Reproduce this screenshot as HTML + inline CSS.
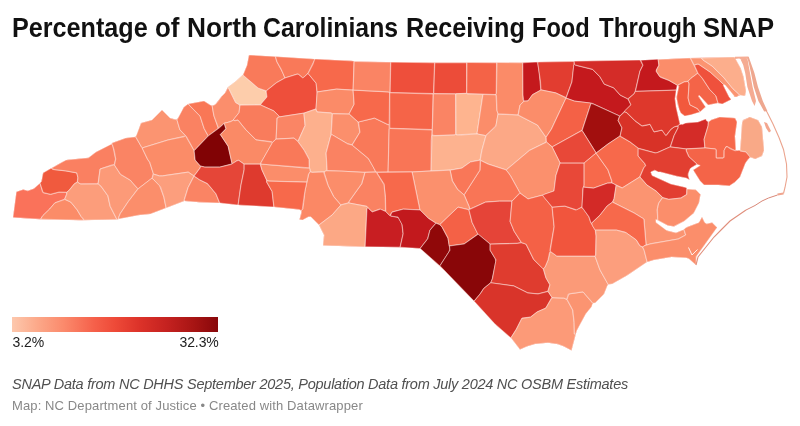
<!DOCTYPE html>
<html><head><meta charset="utf-8">
<style>
html,body{margin:0;padding:0;background:#fff;}
body{width:800px;height:426px;position:relative;overflow:hidden;filter:blur(0.45px);font-family:"Liberation Sans",sans-serif;}
#title{position:absolute;left:0;top:12.7px;font-size:27px;font-weight:bold;color:#111;white-space:nowrap;line-height:30px;}
#title span{position:absolute;top:0;transform-origin:0 0;}
#bar{position:absolute;left:12.4px;top:316.7px;width:206px;height:15px;background:linear-gradient(90deg,#fdc8ad 0%,#fca98a 12%,#fb8a6c 25%,#f5604a 40%,#ee4a38 50%,#dc3229 62%,#c52220 75%,#a81514 88%,#88070a 100%);}
#lmin{position:absolute;left:12.5px;top:334px;font-size:14px;color:#222;line-height:16px;letter-spacing:-0.1px;}
#lmax{position:absolute;right:581.3px;top:334px;font-size:14px;color:#222;line-height:16px;letter-spacing:-0.1px;}
#note{position:absolute;left:12px;top:374.5px;font-size:14.5px;font-style:italic;color:#505050;white-space:nowrap;line-height:18px;letter-spacing:-0.25px;}
#by{position:absolute;left:12px;top:398px;font-size:13px;color:#888;white-space:nowrap;line-height:16px;letter-spacing:0.12px;}
svg{position:absolute;left:0;top:0;}
</style></head><body>
<div id="title"><span style="left:11.89px;transform:scaleX(0.9318)">Percentage</span><span style="left:154.54px;transform:scaleX(0.9600)">of</span><span style="left:186.80px;transform:scaleX(0.9743)">North</span><span style="left:262.83px;transform:scaleX(0.9190)">Carolinians</span><span style="left:405.64px;transform:scaleX(0.9315)">Receiving</span><span style="left:532.00px;transform:scaleX(0.8750)">Food</span><span style="left:598.75px;transform:scaleX(0.8912)">Through</span><span style="left:702.80px;transform:scaleX(0.9486)">SNAP</span></div>
<svg id="map" width="800" height="426" viewBox="0 0 800 426"><path d="M13,217.5 38.8,219.2 79.2,220.2 117.5,219.5 120.2,218.5 138,215.2 150.2,214 184.2,201 199.2,202.2 221,203 240.5,205.2 271.8,206.8 300.2,209.8 301.5,211.2 299.5,219.5 302.5,220 308.5,216.8 310.8,216.8 319,225 324,235 323,245.5 361,246.8 402.5,247.2 420.5,248.5 444.2,270.2 475.2,302.2 496.8,325.8 511.5,338.5 520,349.5 526.8,346.5 535,344 548,342.8 558,344.2 564,346.5 571.5,350.5 576.8,330.5 585.8,313.8 591.5,306.8 592.2,304 593.2,303 595,303 604,294 607,286.2 608.5,284.2 612,284 627.8,275 646.5,262.2 653.8,260 671.5,257 686,257.8 689,258.8 696,265 696.2,256.5 717,227.5 712,222.5 707,223.8 705.8,223.5 704.5,222.2 702,217 699,222.5 687,227 684,229.5 676,232.8 666,230.2 656,222.5 656,219.2 667.8,225.5 674.2,226.5 684,221.2 693.8,213 699,202.8 700.5,194.5 695.8,189.8 687.2,189.2 686,187.5 670.8,184 651.8,175.2 650.8,171.8 654.8,170.2 658.5,172 660.5,172 676.8,176.2 686.2,178 689.5,179.8 688.2,175.8 688.2,173.8 690,169 690.8,168 697.2,164.2 700.2,165.5 693.2,170 700,180.8 704.2,185 718.5,185 729,186 734.8,182.2 740,177 745.5,163 749.5,157.8 751,157.5 755.2,159 762,156 764,150.2 762,127 758.2,120.2 749.8,117 743,120 742,123.2 740.2,150 738,150.8 735.8,150 735,136.2 737,122 735,118 719.8,117 711.5,119.8 708.5,122 706.5,120.8 705.8,119 698,122 685.8,123 682.2,124.5 681,124 680.5,124.8 680,124 676.2,107.5 675,98.8 676,90.5 677.5,85.2 678.8,86 676.5,97.2 677.8,105.2 680.8,113 684.8,116 699.5,112.2 705.5,107.2 698.5,95.8 699.5,95.5 708.2,105 717.5,103 722.2,104 731.2,99.5 729,96.8 723.2,85.2 723.5,84.8 725,84.8 733.8,95.2 734.2,96 733.8,96.8 736.2,97 740.5,95 745,96 746,91 743.5,76.8 740.8,68.5 734.5,57 687.5,58 642.2,60.2 575,61 573.8,61.5 533.8,62 522.8,62.8 434.2,62.8 355.2,61.5 351.5,60.8 317.5,59.2 249,55 247,65.2 243.2,74.5 235.5,81.5 227.8,87.2 225,93 221.5,96.5 215.2,104.5 213.2,105.5 211.2,105.5 204,101 188,104 183.8,107.2 178,118.2 176,119.5 170,118 162,110 152,120 141,123 137,134.5 135.2,137 125.8,138 112.5,142.8 110.8,144.8 96,152 88.5,157.8 67.5,159.8 62.2,162 43.2,172.8 41.2,182 34,188.5 27.8,190.8 23.2,189.5 16.5,191.8Z" fill="#f5765c" stroke="none"/><g stroke="#fff" stroke-width="0.85" stroke-opacity="0.52" stroke-linejoin="round"><path d="M66.5,192.5 59,192.2 50.5,194.5 43.2,192.8 42.5,192 40,183.2 34,188.5 27.8,190.8 23.2,189.5 17,191.5 16.2,192.8 13,217.5 41,219.2 41,218.2 42.8,215.5 49.5,209 54.8,202.8 64.5,199.2 66.5,194.2Z" fill="#fa725a"/>
<path d="M40,183 43.2,192.5 50.5,194.2 59,192 66.5,192.2 68.5,190.8 74.5,183.5 77.2,182.2 77.8,177.8 76.8,173 65.8,171 52.8,169.5 51.2,168.2 43,173 41.5,181.5Z" fill="#f05a3e"/>
<path d="M83.5,220.2 83.2,219 81,216.5 77,209.8 70.8,202.2 64.8,199.5 54.8,203 49.8,209 43,215.5 41.2,218.2 41.2,219.2Z" fill="#fb8c68"/>
<path d="M112.8,146 111.5,144 96,152 88.5,157.8 66,160 51.5,168.2 54,169.5 65.8,170.8 76.8,172.8 78,177.8 77.5,182 80,183.8 98,183.8 100,169 111.5,165 114.2,164.8 115.5,159Z" fill="#fa8061"/>
<path d="M66.8,192.2 66.8,194.2 64.8,199.2 70.8,202 77.2,209.8 81.2,216.5 83.5,219 83.8,220.2 116.8,219.5 110,206.2 107.8,195.8 100.5,185.8 98.2,184 80.8,184.2 77.5,182.2 74.5,183.8 68.8,190.8Z" fill="#fc9d7b"/>
<path d="M113.5,165 100.2,169 98.2,183.8 100.8,185.8 108,195.8 110.2,206.2 117,219.5 118.5,219 118.5,217.5 120,213.8 128,201.8 137.8,188.8 130.2,180.2 120.5,174.5 114.5,165.2Z" fill="#fc9a78"/>
<path d="M112,143 111.8,144 112.5,144.8 114.2,150.2 115.8,159 114.5,165 120.5,174.2 130.2,180 138,188.8 152,178.2 153.2,173.2 149.5,162.2 147.5,159.5 142,147.8 135.5,136.8 125.8,138Z" fill="#fa8464"/>
<path d="M159.5,185.5 152.8,178.8 151.5,178.5 138.2,188.8 128.2,201.8 120.2,213.8 118.8,217.5 118.8,219 139.5,215 150.2,214 166,208 163.8,197.2Z" fill="#fb8e6b"/>
<path d="M176.8,119.2 175,119.5 170,118 162,110 152,120 141,123 135.8,136.8 141.5,147 142.5,147.8 168.2,139.8 184.5,136.2 185.2,135.5 179.8,129.8Z" fill="#fb9471"/>
<path d="M185.5,135.8 183.8,136.8 168.2,140 142.2,148 147.8,159.5 149.8,162.2 153.5,174 159.5,175.8 162.2,175.8 188.2,172 193.2,175.5 194.5,175.2 199.8,168.2 200.5,166.2 195,160 194,150.5Z" fill="#fb8c68"/>
<path d="M194,176 188.2,172.2 162.2,176 159.5,176 153.5,174.2 152.2,178.2 160.5,186.8 164,197.2 166.2,208 184.2,201 184.2,199.5 188,187.5Z" fill="#fc9e7d"/>
<path d="M194,176.2 188.2,187.5 184.5,199.5 184.5,201 199.2,202.2 219.5,203 215.8,193.8 207.5,183.8 199.8,180Z" fill="#fa8464"/>
<path d="M188,104 183.8,107.2 177,120 180,129.8 186.5,136.5 194.2,150.5 208,135.8 204,128.5 200,116.2Z" fill="#fa8262"/>
<path d="M188.8,103.8 189,104.8 200.2,116.2 204.2,128.5 208.2,135.8 218.2,128.2 213.8,115.8 212,105.5 210.2,105 204,101Z" fill="#f97756"/>
<path d="M227.8,87.8 225,93 221.5,96.5 217,102.8 215.2,104.5 212.2,105.8 214,115.8 218.5,128 224.5,123 226.8,122.8 232.8,120.5 239,112.5 239.8,105 235.5,102.5 228.8,88.8Z" fill="#fb8e6c"/>
<path d="M223.8,123.8 219.5,127.8 208.5,135.8 194.2,150.8 195.2,160 200.5,166 204.8,167 219.8,167 232,163.8 228,146.2 220.2,134.5 225.8,128.8 224.5,124.5Z" fill="#810305"/>
<path d="M227.8,87.2 229,88.8 235.8,102.5 240,105 260.5,104.8 266.8,97 266,91 258.2,88.2 242.8,75 235.5,81.5Z" fill="#fdcdab"/>
<path d="M249,55 247,65.2 243,75 258.2,88 266.2,90.8 276.5,82.5 284.8,78 282.8,72.8 276.8,61.8 275.2,56.5Z" fill="#f97a5a"/>
<path d="M275.5,56.5 277,61.8 281,68.8 285,77.8 297.2,74 298.5,74.2 302.5,77.5 303.8,77.2 308,73.2 314.5,60 314.5,59Z" fill="#f97959"/>
<path d="M316,83.2 308,73.5 303.2,77.8 302.5,77.8 298.5,74.5 297.2,74.2 285,78 276.5,82.8 266.2,91 267,97 260.8,104.2 260.8,105 273.8,110.8 279.5,116.8 304,113 316,108.8 317,93Z" fill="#ee4f3b"/>
<path d="M314.8,59 313,64.2 308.2,73.5 316.2,83.2 317.2,91.8 336.5,89 353,90 354,61Z" fill="#f7694b"/>
<path d="M353,90.2 336.5,89.2 317.2,92 316,109 317,111.8 330.8,112.8 332.5,113.5 349,114 354,104.2Z" fill="#fb8b68"/>
<path d="M240,105.2 239.2,112.5 233.2,120 234,120.5 238,120 245.2,129 256,139.8 270.5,141.5 272.5,142.2 276,139 277,118 279.2,116.8 278.8,115.8 273.8,111 260.5,105Z" fill="#f97c5c"/>
<path d="M224.5,123.2 224,123.8 224.8,124.5 226,128.8 220.5,134.5 228.2,146.2 232,163.2 232.8,163.5 237,160.5 238.8,160.2 244,164 260.2,164 272.2,143.2 272.2,142.2 256,140 245,129 238,120.2 235,120.8 233.2,120.2 231.2,121.5Z" fill="#fa8a66"/>
<path d="M303.8,113.2 279.2,117 277.2,118 276.2,139 294,138 298,141.2 305,125.5Z" fill="#fa8565"/>
<path d="M315.8,109.2 304,113.2 305.2,125.5 298,141.5 304.5,150.5 309,158.8 309.5,167.8 310.5,171.5 312,172.2 323.8,171.8 327,170.5 326,153 331,134.5 332.2,113.8 330.8,113 317.8,112.2 316.8,111.8Z" fill="#fdb08d"/>
<path d="M332.5,113.8 331.2,134.2 347.2,143.5 352,144.8 359.8,132.2 358,122 349.2,114.2Z" fill="#fb8f6c"/>
<path d="M331,134.8 326.2,153 327.2,170.5 362.8,172.2 375.5,171.8 373.2,166.8 368.2,158.5 352,145 347.8,144 332.2,134.8Z" fill="#fa8262"/>
<path d="M358.5,122 360,132.2 352.2,145 368.5,158.5 376,172 388,171.8 389.2,124.8 388,124.8 374.5,118.2Z" fill="#f97959"/>
<path d="M353.2,90.2 354.2,104.2 349.2,113.8 358.2,122 374.5,118 388,124.5 389.2,124.5 389.5,92.5 388.2,92Z" fill="#f7694b"/>
<path d="M354.2,61.5 353.2,90 388.2,91.8 390,92.5 390.5,62.2Z" fill="#fa8464"/>
<path d="M390.8,62.2 390.2,92.5 433.5,93.5 434.5,62.8Z" fill="#ee4f3b"/>
<path d="M434.8,62.8 433.8,93.5 455.5,93.8 466.5,93.2 466.5,62.8Z" fill="#ec4c39"/>
<path d="M467,62.5 466.8,93.5 495.8,94.5 496.2,93.2 496.5,62.8Z" fill="#f46347"/>
<path d="M389.8,92.8 389.8,128.2 432.2,129.5 433,94Z" fill="#f56448"/>
<path d="M433.5,93.8 432.2,135 435,135.5 455,134.8 455.5,134.2 455.5,94Z" fill="#fa8464"/>
<path d="M482.8,94.5 467.8,94 466.5,93.5 455.8,93.8 456,134.8 477,133.8Z" fill="#feb48f"/>
<path d="M496,94.8 483,94.5 477.2,132.5 477.5,134 485.8,135.5 496,125.5 498,114 496.8,110.2Z" fill="#fb8d6a"/>
<path d="M389.8,128.5 389.2,129 388.2,171.8 414,171.8 431,170.8 431.2,140.8 432,130Z" fill="#f97556"/>
<path d="M485.8,135.8 477.2,134 457.8,135.2 455.5,134.5 454.2,135.2 433.8,135.8 432,135.2 431.2,170.8 450.5,170 461.8,168 470.5,161.8 480,160 481.8,150.2Z" fill="#fdb28f"/>
<path d="M498,114.2 495.8,126.5 486,135.5 482,150.2 480.2,160 488.2,164 506.2,169.8 529.5,150.2 546,142.2 546,137.5 537.5,125.2 518,115Z" fill="#fca886"/>
<path d="M497,62.5 496.5,93.2 496,94.5 496.5,95.8 497,110.2 498,113.8 518,114.8 519.8,105.5 523.8,101.2 523,99.5 522.5,62.8Z" fill="#fb8b68"/>
<path d="M537,62 522.8,62.8 523,95 523.8,101 528,100.8 532.5,94.5 540.8,90 539.2,73.5 537.8,63.5Z" fill="#c4191d"/>
<path d="M574.2,61.5 538,62 537.8,63.2 540.5,81.2 541,89.8 555.8,92.8 566,97.5 571.8,81.8Z" fill="#e23d30"/>
<path d="M541,90 532.5,94.8 528,101 524,101.2 520.2,105 518.2,115 537.5,125 546,137.2 551.2,129.2 566,98 555.8,93Z" fill="#fb8d6a"/>
<path d="M573.8,65.2 572,81.8 566.2,98 574.5,101 592,103.2 619.8,116 630.8,104.8 628,99 620.2,95.2 613.8,88 604.2,84.2 599.8,76.8 592.5,69.5 576.2,65.5 574.5,64.5Z" fill="#c4191d"/>
<path d="M642.8,65.2 640,60 574.2,61.2 574.5,64.2 575.5,65 592.5,69.2 600,76.8 604.2,84 613.8,87.8 620.2,95 627.8,98.8 634,93.8 635.2,91.2 639.8,71.2Z" fill="#d42c28"/>
<path d="M677.2,85.2 668.8,80.5 660.8,77.5 659.5,76.5 656.2,71.5 656.2,70 658.8,65.2 658,59.2 640.8,60.2 643,65.2 640,71.2 635.5,91.2 676.2,90Z" fill="#c4191d"/>
<path d="M697.8,73.2 690.2,58 658.2,59.5 659,65.2 656.5,70 656.5,71.5 659.8,76.5 668.8,80.2 677.5,85.2 684.2,81.8 688,81.2 690.8,78.2Z" fill="#fb8d6a"/>
<path d="M590.2,103 574.5,101.2 566,98.2 551.5,129.2 546.2,137.2 546.5,142 552.2,146.8 582,130.2 590.8,103.5Z" fill="#f46146"/>
<path d="M591,103.5 582.2,130.5 596.2,152.8 607.8,144 620,136 621.8,127.8 618,120.5 619.5,116 593.2,104Z" fill="#a20f0e"/>
<path d="M582,130.5 552.2,147 560.2,163 584,163 596,153Z" fill="#e84838"/>
<path d="M546.5,142.2 529.5,150.5 506.5,169.8 506.5,170.5 510.5,175.5 520,193 528,198.8 542.8,195 553.2,191.2 554,190.5 555.8,175.5 560,163 552,146.8Z" fill="#fb906d"/>
<path d="M480.5,160.5 480,170.2 464.2,194.8 469.2,206.5 469.8,209 485.5,202 499.5,201 512,201 519.8,192.8 510.2,175.5 506.2,170 488.2,164.2Z" fill="#f97556"/>
<path d="M480.2,160.2 470.5,162 461.8,168.2 450.2,170.2 452.5,180.8 457.8,189.5 463.5,194.5 464.2,194.5 479.8,170.2Z" fill="#f97758"/>
<path d="M412.2,172 420,209.8 428.5,218.2 435.8,223 439.8,224.5 458,207 468.5,209.5 469.5,209 469,206.5 464,194.8 457.5,189.5 452.2,180.8 450,170.2Z" fill="#fb906d"/>
<path d="M376.8,172.5 384,183.8 385.5,197.2 385.8,211.5 389.5,215.2 390.2,215.2 391.5,212.5 392.5,211.8 403.2,209 419.8,209.8 412,172Z" fill="#f7694b"/>
<path d="M376.2,172.2 365,172.5 361.8,183.8 348.8,202 349,203 366.8,206.2 372.2,211.8 379.5,209 385.5,211.2 385.2,197.2 384,184.8Z" fill="#fa8262"/>
<path d="M324,171.8 328.2,185.5 333.8,196.5 340.8,204.8 348.5,202.8 348.5,202 361.5,183.8 364.8,172.5 343,171.2 326.5,170.8Z" fill="#fb8d6a"/>
<path d="M310.2,171.8 308.8,174 305.2,190 303,208.5 301.2,210.8 301.5,212.5 299.5,219.5 302.5,220 308.5,216.8 310.8,216.8 319,224.8 332,215 340.8,205 333.5,196.5 328,185.5 324,173.5 324,172 312,172.5Z" fill="#fb8865"/>
<path d="M366.8,206.5 348.8,203 341,205 332,215.2 319,225 324,235 323,245.5 365,246.8 366.8,208.8 367.8,207.8Z" fill="#fca885"/>
<path d="M367.8,208 367,208.8 365.2,246.8 400,247.2 403,233.8 401.8,223.8 398.2,217.5 391,216.2 389.5,215.5 385.5,211.5 380.5,209.2 372.2,212Z" fill="#c81e22"/>
<path d="M392,212.2 390.5,215.5 392,216.2 398,217 402.2,224.8 403.2,233.8 400.2,247.2 420,248.5 427.5,238.8 429.8,230.2 435.8,223.2 428.5,218.5 420,210 403.2,209.2Z" fill="#c2191d"/>
<path d="M436,223.2 430,230.2 427.8,238.8 420.2,248.5 439.8,265.8 448.8,252 449.8,249.2 448,238.5 441.8,226.8 439.8,224.8Z" fill="#900809"/>
<path d="M468.8,209.8 458,207.2 440,224.5 442.5,227.5 448,237.8 449.2,245.8 464.2,243.8 477.5,234.2 477.5,233.2 472,222.5Z" fill="#f46146"/>
<path d="M469,209.8 472.2,222.5 477.8,234 490.2,244 517.2,243.2 521.2,242.5 514,231.2 510,221.5 511.8,201.2 499.5,201.2 485.5,202.2Z" fill="#e54438"/>
<path d="M478.2,234.2 464.2,244 449.5,246 450,250.2 440,265.8 474,301 479.8,294.2 483.5,288.5 490.8,282.5 492.2,278.8 495.8,261.2 495.2,258.8 490,250.2 490,244Z" fill="#890608"/>
<path d="M490.2,244.2 490.2,250.2 496,259.8 492.5,278.8 491,282 491.2,282.8 513.8,285.8 527.8,292.8 538,293.8 547.8,291.2 549.8,284.8 545.8,277.8 543.2,268.8 533.5,259.5 525.8,244 521.2,242.8 517.2,243.5Z" fill="#df3c2f"/>
<path d="M474.2,301.2 494.5,323.5 510.8,337.8 516.2,329.2 522,318 530.5,317 537.2,311.8 545.8,308 551.8,297.2 548,291.5 538,294 527.8,293 513.8,286 490.8,282.8 483.8,288.5 480.8,293.2Z" fill="#d9342a"/>
<path d="M566.8,299.5 563.8,298.2 552,297.8 545.8,308.2 537.2,312 530.5,317.2 521.8,318.5 516.5,329.2 511,337.8 520,349.5 526.8,346.5 535,344 548,342.8 558,344.2 564,346.5 571.5,350.5 575.5,335 574.2,334 574,322.2 572.5,310Z" fill="#fc9a78"/>
<path d="M583,292 569,294 567,299.2 572.8,310 574.2,322.2 574.5,334 575.5,334.8 576.8,330.5 585.8,313.8 591.5,306.8 592.8,303.5Z" fill="#fb9471"/>
<path d="M550,252 548.2,259.8 545.2,267 543.5,268.8 546,277.8 550,284.8 548,291.2 552,297.5 563.8,298 566.8,299.2 568.2,294.2 569,293.8 583,291.8 593,303.2 595,303 604,294 608,284.2 599.8,269.8 595,256.2 556.8,256.2 551.2,252Z" fill="#fb9a78"/>
<path d="M520,193.2 512,201.2 510.2,221.5 514.2,231.2 521.5,242.5 526.2,244.2 533.8,259.5 542.5,268.2 543.5,268.5 545,267 548,259.8 549.5,252.5 550.2,251.5 550,249.5 554,226.8 552,207 542.5,195.2 528,199Z" fill="#f46146"/>
<path d="M552.2,207.2 554.2,226.8 550.2,251.2 556.8,256 595,256 595.5,255.2 596,236 595.2,230.2 590.5,222.2 588.8,216.8 583,208.5 581.2,207.5 575.5,210 564.8,206.2Z" fill="#f1553d"/>
<path d="M560,163.2 556,175.5 554,191 543.8,194.5 542.8,195.8 552.2,207 564.8,206 576.5,209.8 582,206.8 582.8,188.8 584,185.2 584,163.2Z" fill="#e84838"/>
<path d="M596,153.2 584.2,163 584.2,185.2 583.8,186.2 584.2,187 593.5,188 607.5,183 611.8,182.8 611.5,180.5 607.8,169.8Z" fill="#f7694b"/>
<path d="M614.8,184.2 612,183 607.5,183.2 593.5,188.2 583.2,187.2 582,207.2 589,216.8 590.8,222.2 591.5,223 600,215 607,206 612.5,202 614,198.5 616,185.8Z" fill="#d32a27"/>
<path d="M619.8,136.2 607.8,144.2 596.2,153.2 608,169.8 611.8,180.5 612,182.8 622.2,187.8 639.5,177 643.8,167.5 645.5,165.8 644.5,163.5 638,156 638.2,148.2 630,142Z" fill="#f7694b"/>
<path d="M619.8,116.2 618.2,120.5 622,127.8 620.2,136 630,141.8 638.5,148.2 655.2,152.8 656.5,152.8 670.2,146.8 674,135.5 678,127.8 677.8,126 674.2,127 670.8,129.5 667.2,134.5 665.8,135.5 662,130.2 654,132 650,124.5 643,126 641.5,125.8 634.8,120.8 626,112.2 624.5,112Z" fill="#d83227"/>
<path d="M680,124.2 676.2,107.5 675,98.8 676.2,90.2 635.2,91.5 634.2,93.8 628.2,99 631,104.8 624.8,110.8 624.5,111.8 626.8,112.5 634.8,120.5 642,125.8 650,124.2 654,131.8 662,130 665.2,134.8 666.2,135.2 670.8,129.2 674.2,126.8 677.8,125.8Z" fill="#de382c"/>
<path d="M688,81.5 684.2,82 678,85.2 678.8,86.5 676.8,96 676.8,99.2 679.2,109.5 680.8,113 684.8,116 691.2,114.8 699.8,112 697.5,108.8 689.8,104.8 688,98 689,83.8Z" fill="#f2593d"/>
<path d="M697.5,73.5 690.8,78.5 688.2,81.2 689.2,83.8 688.2,98 690,104.8 697.5,108.5 700,112 705.5,106.8 698.5,96.5 698.5,95.8 699.5,95.5 708.2,105 717.2,103.2 717.8,102.5 715.5,95.5 709.5,89.5 702.5,78.8 699,74.2Z" fill="#f46448"/>
<path d="M694.5,65.2 698,73.2 702.8,78.8 709.8,89.5 716.2,96.2 718,103 722.2,104 731.2,99.5 729,96.8 723.2,85.2 723.8,84.8 718.5,79.5 710.2,72.2 698.8,64.5 697.2,64.2Z" fill="#ef513c"/>
<path d="M690.5,58 694.2,65 697.2,64 698.8,64.2 710.2,72 724,84.8 725,84.8 734.2,96 733.8,96.8 736.2,97 739.5,95.2 732.8,88.8 724,78 712.2,66.2 702.8,60 701.2,58Z" fill="#fb9471"/>
<path d="M701.5,58 702.8,59.8 712.2,66 724.2,78 733,88.8 738.2,93.2 739.8,95.2 745,96 746,91 743.5,76.8 740.8,68.5 734.5,57Z" fill="#fcae8c"/>
<path d="M708.2,121.8 706.5,120.8 705.8,119 698,122 685.8,123 682.2,124.5 681,124 680.5,124.8 680.2,124.2 678.2,125.5 678.2,127.8 674.2,135.5 670.5,146.8 685.5,148.8 704.8,147.8 704,139.2 708,125.8Z" fill="#d42c28"/>
<path d="M735,118 719.8,117 711.5,119.8 708.5,122 708.2,125.8 704.2,139.2 705,147.8 715.8,149 716.2,149.8 716.2,157.8 716.8,158 723.8,157.8 724,150.5 726,146.5 727.2,146.5 734.2,150.2 736.2,150.2 735.8,150 735,136.2 737,122Z" fill="#f7694b"/>
<path d="M749.8,117 742.8,120.5 742,123.2 740.2,150 739.5,150.2 740.5,151 745.8,151.8 750.2,157.8 751,157.5 755.2,159 762,156 764,150.2 762,127 758,120Z" fill="#f9a987"/>
<path d="M749.8,156.8 745.8,152 740.5,151.2 739.2,150.2 735,150.8 730.2,148.8 727.2,146.8 725.8,147 724.2,150.5 724.2,157.2 723.2,158.2 716.8,158.2 716,157.8 716,149.8 715.2,149 705.5,148 686.5,149 686.5,151 689,156.8 697.5,164.5 700.2,165.5 693.2,170 700,180.8 704.2,185 718.5,185 729.5,185.8 734.8,182.2 740,177 745.5,163 748.5,158.8 750,157.8Z" fill="#f46448"/>
<path d="M638.2,148.5 638.2,156 644.8,163.5 645.8,165.8 644,167.5 640,177 647,185 656.2,191 662.8,197.5 668.8,199.2 680.5,198 686.5,194.5 686.8,188.8 686,187.5 670.8,184 652,175.5 650.8,172 654.8,170.2 658.5,172 660.5,172 676.8,176.2 686.2,178 689.5,179.8 688.2,175.8 688.2,173.8 690,169 690.8,168 697,164.2 688.8,156.8 686.2,151 686.2,149 670,147 657.8,152.5 655.2,153Z" fill="#e23f31"/>
<path d="M616.2,185.5 614.2,198.5 612.8,202.2 634,212.8 644,219 646.2,245 651.5,243.5 677.8,239 685.5,235 683.8,229.5 676,232.8 666.8,230.5 656,222.5 655.8,219.5 657.5,220.2 657.8,219.5 657,210 658.5,203.2 662.5,197.5 656.2,191.2 647,185.2 639.8,177 622.2,188Z" fill="#fb9471"/>
<path d="M700.5,194.5 695.8,189.8 687,189 686.8,194.5 681.2,198 668.8,199.5 662.5,197.8 658.8,203.2 657.5,208.8 657.8,220.2 667.8,225.5 673.5,226.5 684,221.2 693.8,213 699,202.8Z" fill="#fb8e6b"/>
<path d="M591.8,223.2 592.5,225.8 595.2,230 616.5,230 625,232 636.2,239.8 640.2,246 642.8,246.8 643.8,245.8 646,245 643.8,219 634,213 612.5,202.2 607.2,206 600.2,215Z" fill="#f7694b"/>
<path d="M595.5,230.2 596.2,236 595.8,255.2 595.2,256.5 600,269.8 608.2,284.5 612,284 625.8,276.2 647,262 644,250.2 642.5,247 640.2,246.2 639.2,245.2 636.2,240 626.2,232.8 616.5,230.2Z" fill="#fc9e7d"/>
<path d="M717,227.5 712,222.5 707,223.8 705.8,223.5 704.5,222.2 702,217 699,222.5 686,227.5 684,229.5 685.8,235 678.5,239 650.2,244 643.8,246 642.8,247.2 644.2,250.2 647.2,262 653.8,260 671.5,257 686,257.8 689,258.8 696,265 696.2,256.5Z" fill="#fb8e6b"/>
<path d="M238.8,160.5 237,160.8 231,164.5 219.8,167.2 204.8,167.2 200.8,166.2 200,168.2 194.2,176 199.8,179.8 207.5,183.5 216,193.8 219.8,203 238,205 240.8,185.2 244,169.8 244,164.2Z" fill="#e54638"/>
<path d="M244.2,164.2 244.2,169.8 241,185.2 238.2,205 273.8,207 272,191.5 266.5,182 266.5,180 261.8,169.8 260.2,164.2Z" fill="#de3a2e"/>
<path d="M260.5,164 262,169.8 266.8,180.2 268.8,181 306.8,182 308.5,174 310.2,171.5 309.5,168 304.5,168Z" fill="#fb8d6a"/>
<path d="M266.8,180.5 266.8,182 272.2,191.5 274,207 299.2,209.5 301,210.5 302.2,209.8 304.8,191.5 306.8,182.2 268.8,181.2Z" fill="#f7694b"/>
<path d="M309.2,167.8 309,159.5 304.2,150.5 298,141.8 294,138.2 276,139.2 272.5,142.5 260.8,163 260.8,163.8 262.5,164.2Z" fill="#f97959"/></g>
<path d="M735,56.7 748.2,56.4 748.8,58.6 742,59.6 739,58.6 735,59Z" fill="#f6ad94"/>
<path d="M740.5,59.2 747.4,58.4 750,73 752.6,87 756,101 754.6,106 752,101 747.4,87 745.2,73 743.2,65Z" fill="#f5ab92"/>
<path d="M747.4,58 748.6,56.5 751.6,65 754.4,73 758,87 762.8,101 767.4,111 764.2,111.6 758.4,101 753.8,87 751,73 749.2,65Z" fill="#eea78f"/>
<path d="M764,122 767,123 771,131 769,132.5 766,128Z" fill="#f3a68e"/>
<path d="M765.5,110 767,112 773,124 779,137.5 783.5,149.5 786.5,164 787,177 785,187.5 783.5,193.5" fill="none" stroke="#eba48e" stroke-width="1.1"/>
<path d="M783.5,193.5 777.5,194.5" fill="none" stroke="#f0a58f" stroke-width="2.2"/>
<path d="M777.5,195 768.5,198 762,201 755,205.5 746,210" fill="none" stroke="#d98878" stroke-width="1"/>
<path d="M746,210 738,215.5 730,221 722,229 714,237 706,247 698,257 696,265" fill="none" stroke="#e08f7c" stroke-width="1.1"/>
<path d="M688.5,247.5 692,255 697.5,249.5" fill="none" stroke="#fff" stroke-width="1" stroke-opacity="0.85"/>
</svg>
<div id="bar"></div>
<div id="lmin">3.2%</div><div id="lmax">32.3%</div>
<div id="note">SNAP Data from NC DHHS September 2025, Population Data from July 2024 NC OSBM Estimates</div>
<div id="by">Map: NC Department of Justice • Created with Datawrapper</div>
</body></html>
